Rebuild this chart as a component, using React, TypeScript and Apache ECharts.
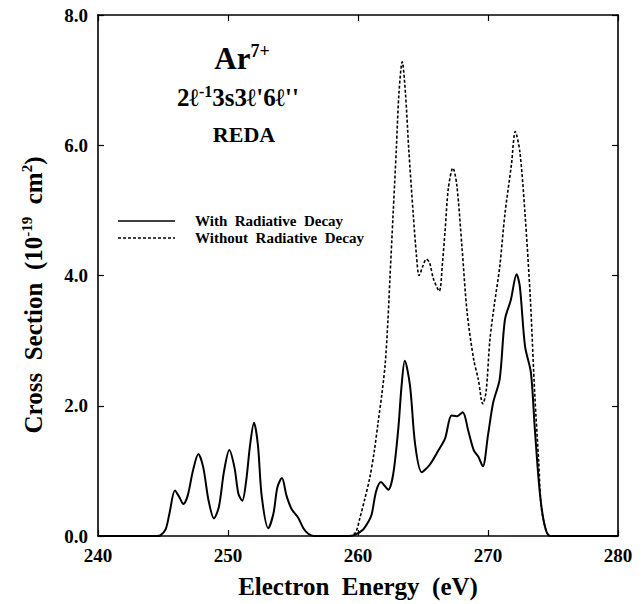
import React, { useEffect, useRef } from "react";
import * as echarts from "echarts";

const FONT = "'Liberation Serif', 'Times New Roman', serif";

const xTicks = [240, 250, 260, 270, 280];
const yTicks = [0, 2, 4, 6, 8];

// With radiative decay (solid)
const solidEnergy = [
  240, 244.5, 244.8, 245.2, 245.5, 245.92, 246.3, 246.56, 246.9, 247.3, 247.72, 248.1, 248.5, 248.92,
  249.3, 249.7, 250.1, 250.5, 250.8, 251.1, 251.4, 251.7, 252.0, 252.3, 252.6, 253.1, 253.5, 253.8,
  254.15, 254.5, 254.9, 255.4, 255.8, 256.2, 256.6, 259.3, 259.8, 260.4, 260.8, 261.05, 261.4, 261.77,
  262.05, 262.33, 262.7, 263.1, 263.35, 263.6, 264.0, 264.4, 264.9, 265.5, 266.2, 266.7, 267.2, 267.6,
  268.05, 268.5, 268.9, 269.25, 269.6, 270.0, 270.4, 270.9, 271.3, 271.75, 272.2, 272.45, 272.85, 273.3,
  273.6, 274.0, 274.4, 274.8, 280,
];
const solidCross = [
  0, 0, 0.01, 0.1, 0.35, 0.7, 0.58, 0.49, 0.62, 1.0, 1.26, 1.05, 0.55, 0.27,
  0.45, 1.0, 1.32, 1.05, 0.65, 0.54, 0.85, 1.4, 1.74, 1.4, 0.6, 0.12, 0.35, 0.75,
  0.89, 0.62, 0.41, 0.28, 0.12, 0.03, 0, 0, 0.02, 0.1, 0.22, 0.33, 0.69, 0.83,
  0.77, 0.71, 0.94, 1.65, 2.3, 2.69, 2.31, 1.4, 0.98, 1.09, 1.32, 1.5, 1.85, 1.84,
  1.9, 1.6, 1.32, 1.22, 1.07, 1.55, 2.05, 2.41, 3.32, 3.62, 4.02, 3.83, 2.91, 2.51,
  1.65, 0.64, 0.13, 0, 0,
];

// Without radiative decay (dotted)
const dashedEnergy = [
  256.6, 259.3, 259.8, 260.15, 260.5, 260.9, 261.25, 261.55, 261.85, 262.1, 262.3, 262.45, 262.7, 262.95,
  263.15, 263.4, 263.65, 263.9, 264.25, 264.5, 264.7, 265.0, 265.25, 265.5, 265.8, 266.25, 266.5, 266.7,
  266.95, 267.3, 267.6, 268.0, 268.4, 268.9, 269.25, 269.6, 269.85, 270.15, 270.5, 270.9, 271.3, 271.8,
  272.1, 272.45, 272.85, 273.25, 273.6, 273.9, 274.1, 274.5, 274.8, 280,
];
const dashedCross = [
  0, 0, 0.05, 0.28, 0.55, 0.89, 1.3, 1.75, 2.2, 2.66, 3.3, 3.93, 4.94, 5.95,
  6.8, 7.28, 6.8, 5.95, 4.94, 4.3, 4.0, 4.15, 4.25, 4.2, 3.95, 3.76, 4.2, 4.69,
  5.34, 5.65, 5.39, 4.43, 3.42, 2.71, 2.41, 2.03, 2.21, 3.02, 3.57, 4.13, 4.94, 5.7,
  6.21, 5.9, 4.94, 3.67, 2.16, 1.14, 0.44, 0.06, 0, 0,
];

const seriesNames = ["With Radiative Decay", "Without Radiative Decay"];

export default function App() {
  const ref = useRef<HTMLDivElement>(null);
  useEffect(() => {
    if (!ref.current) return;
    const chart = echarts.init(ref.current, undefined, { renderer: "svg" });
    const solidData = solidEnergy.map((x, i) => [x, solidCross[i]]);
    const dashedData = dashedEnergy.map((x, i) => [x, dashedCross[i]]);
    const axisLine = { show: true, onZero: false, lineStyle: { color: "#000", width: 1.6 } };
    const axisTick = { show: true, inside: true, length: 6, lineStyle: { color: "#000", width: 1.2 } };
    const labelStyle = { color: "#000", fontFamily: FONT, fontWeight: "bold" as const, fontSize: 19 };
    chart.setOption({
      animation: false,
      grid: { left: 98, right: 26, top: 15, bottom: 62 },
      xAxis: [
        {
          type: "value", min: xTicks[0], max: xTicks[xTicks.length - 1], interval: 10, position: "bottom",
          axisLine, axisTick, splitLine: { show: false },
          axisLabel: { ...labelStyle, margin: 10 },
          name: "Electron  Energy  (eV)", nameLocation: "middle", nameGap: 38,
          nameTextStyle: { color: "#000", fontFamily: FONT, fontWeight: "bold", fontSize: 25 },
        },
        {
          type: "value", min: xTicks[0], max: xTicks[xTicks.length - 1], interval: 10, position: "top",
          axisLine, axisTick, splitLine: { show: false }, axisLabel: { show: false },
        },
      ],
      yAxis: [
        {
          type: "value", min: yTicks[0], max: yTicks[yTicks.length - 1], interval: 2, position: "left",
          axisLine, axisTick, splitLine: { show: false },
          axisLabel: { ...labelStyle, margin: 10, formatter: (v: number) => v.toFixed(1) },
        },
        {
          type: "value", min: yTicks[0], max: yTicks[yTicks.length - 1], interval: 2, position: "right",
          axisLine, axisTick, splitLine: { show: false }, axisLabel: { show: false },
        },
      ],
      series: [
        {
          name: seriesNames[1], type: "line", data: dashedData, symbol: "none", smooth: 0.3,
          lineStyle: { color: "#000", width: 1.6, type: [3, 2] },
        },
        {
          name: seriesNames[0], type: "line", data: solidData, symbol: "none", smooth: 0.3,
          lineStyle: { color: "#000", width: 2 },
        },
      ],
      graphic: [
        {
          type: "text", x: 242, y: 58,
          style: {
            text: "{b|Ar}{s|7+}", align: "center", verticalAlign: "middle",
            rich: {
              b: { fontFamily: FONT, fontWeight: "bold", fontSize: 31, fill: "#000", lineHeight: 34 },
              s: { fontFamily: FONT, fontWeight: "bold", fontSize: 18, fill: "#000", padding: [0, 0, 14, 0] },
            },
          },
        },
        {
          type: "text", x: 238, y: 97,
          style: {
            text: "{m|2ℓ}{s|-1}{m|3s3ℓ'6ℓ''}", align: "center", verticalAlign: "middle",
            rich: {
              m: { fontFamily: FONT, fontWeight: "bold", fontSize: 25, fill: "#000", lineHeight: 28 },
              s: { fontFamily: FONT, fontWeight: "bold", fontSize: 16, fill: "#000", padding: [0, 0, 12, 0] },
            },
          },
        },
        {
          type: "text", x: 244, y: 134,
          style: { text: "REDA", align: "center", verticalAlign: "middle", fontFamily: FONT, fontWeight: "bold", fontSize: 22, fill: "#000" },
        },
        {
          type: "line", shape: { x1: 118, y1: 221, x2: 175, y2: 221 },
          style: { stroke: "#000", lineWidth: 1.6 },
        },
        {
          type: "line", shape: { x1: 118, y1: 238, x2: 175, y2: 238 },
          style: { stroke: "#000", lineWidth: 1.6, lineDash: [3, 2] },
        },
        {
          type: "text", x: 195, y: 221,
          style: { text: "With  Radiative  Decay", align: "left", verticalAlign: "middle", fontFamily: FONT, fontWeight: "bold", fontSize: 15, fill: "#000" },
        },
        {
          type: "text", x: 195, y: 238,
          style: { text: "Without  Radiative  Decay", align: "left", verticalAlign: "middle", fontFamily: FONT, fontWeight: "bold", fontSize: 15, fill: "#000" },
        },
        {
          type: "text", x: 33, y: 295, rotation: Math.PI / 2,
          style: {
            text: "{n|Cross  Section  (10}{s|-19}{n|  cm}{s|2}{n|)}", align: "center", verticalAlign: "middle",
            rich: {
              n: { fontFamily: FONT, fontWeight: "bold", fontSize: 25, fill: "#000", lineHeight: 30 },
              s: { fontFamily: FONT, fontWeight: "bold", fontSize: 15, fill: "#000", padding: [0, 0, 13, 0] },
            },
          },
        },
      ],
    });
    return () => chart.dispose();
  }, []);
  return <div ref={ref} style={{ position: "fixed", left: 0, top: 0, width: 644, height: 604, background: "#fff" }} />;
}
